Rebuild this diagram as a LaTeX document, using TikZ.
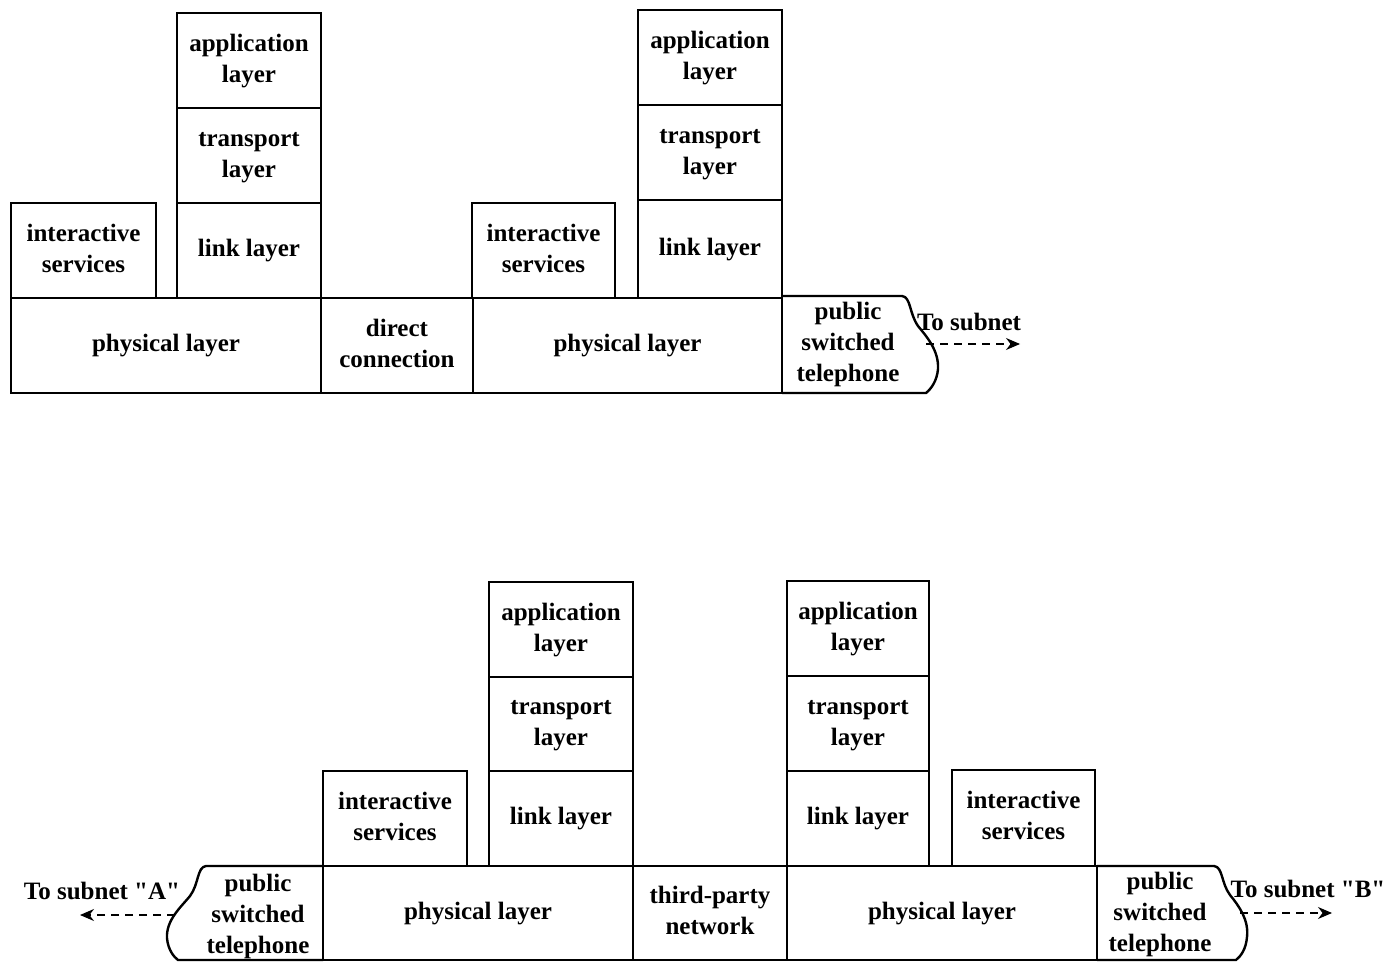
\documentclass[tikz,border=0pt]{standalone}
\usepackage{fontspec}
\setmainfont{Liberation Serif}
\usetikzlibrary{arrows.meta}
% a ruled box given by its corners (in px units of the picture)
\newcommand\lbox[6]{%
  \pgfmathsetmacro\lbw{(#4-#2)*0.5}%
  \pgfmathsetmacro\lbh{(#5-#3)*0.5}%
  \node[layerbox, minimum width=\lbw pt, minimum height=\lbh pt]
    (#1) at ({(#2+#4)/2},{(#3+#5)/2}) {\raisebox{-1.2pt}{\begin{tabular}{@{}c@{}}#6\end{tabular}}};}
\begin{document}
\begin{tikzpicture}[x=0.5pt,y=-0.5pt,
  line width=1.2pt,
  every node/.style={font=\bfseries\fontsize{12.5}{15.5}\selectfont, align=center},
  layerbox/.style={draw, inner sep=0pt, line width=1.2pt},
  label text/.style={inner sep=0pt, yshift=-1pt},
  outline/.style={line width=1.2pt, line join=round},
  link/.style={dashed, dash pattern=on 4pt off 3pt, line width=0.6pt,
    -{Stealth[length=7pt,width=6pt]}}]
\useasboundingbox (0,0) rectangle (1387,962);

% ---------------- upper network: two stacks joined by a direct connection
\lbox{is1}{11}{203}{156}{298}{interactive\\services}
\lbox{app1}{177}{13}{321}{108}{application\\layer}
\lbox{tr1}{177}{108}{321}{203}{transport\\layer}
\lbox{ln1}{177}{203}{321}{298}{link layer}
\lbox{ph1}{11}{298}{321}{393}{physical layer}
\lbox{dc}{321}{298}{473}{393}{direct\\connection}
\lbox{is2}{472}{203}{615}{298}{interactive\\services}
\lbox{app2}{638}{10}{782}{105}{application\\layer}
\lbox{tr2}{638}{105}{782}{200}{transport\\layer}
\lbox{ln2}{638}{200}{782}{298}{link layer}
\lbox{ph2}{473}{298}{782}{393}{physical layer}

% public switched telephone with its open curved edge
\draw[outline] (782,296) -- (902,296)
  .. controls (911,297) and (909,313) .. (918,326)
  .. controls (926,336) and (939,350) .. (938,369)
  .. controls (937,381) and (931,389) .. (926,393) -- (782,393);
\coordinate (pstTout) at (926,344);
\node[label text] (pstT) at (848,342) {public\\switched\\telephone};
\node[label text] (subT) at (969,320) {To subnet};
\coordinate (subTend) at (1020,344);
\draw[link] (pstTout) -- (subTend);

% ---------------- lower network: two stacks joined by a third-party network
\lbox{is3}{323}{771}{467}{866}{interactive\\services}
\lbox{app3}{489}{582}{633}{677}{application\\layer}
\lbox{tr3}{489}{677}{633}{771}{transport\\layer}
\lbox{ln3}{489}{771}{633}{866}{link layer}
\lbox{ph3}{323}{866}{633}{960}{physical layer}
\lbox{tp}{633}{866}{787}{960}{third-party\\network}
\lbox{app4}{787}{581}{929}{676}{application\\layer}
\lbox{tr4}{787}{676}{929}{771}{transport\\layer}
\lbox{ln4}{787}{771}{929}{866}{link layer}
\lbox{is4}{952}{770}{1095}{866}{interactive\\services}
\lbox{ph4}{787}{866}{1097}{960}{physical layer}

% telephone link toward subnet A (curved edge on the left)
\draw[outline] (323,866) -- (206,866)
  .. controls (197,867) and (199,884) .. (190,896)
  .. controls (181,907) and (166,920) .. (167,938)
  .. controls (168,950) and (174,957) .. (178,960) -- (323,960);
\coordinate (pstAout) at (175,915);
\node[label text] (pstA) at (258,914) {public\\switched\\telephone};
\node[label text] (subA) at (102,889) {To subnet \textquotedbl A\textquotedbl};
\coordinate (subAend) at (80,915);
\draw[link] (pstAout) -- (subAend);

% telephone link toward subnet B (curved edge on the right)
\draw[outline] (1097,866) -- (1214,866)
  .. controls (1223,867) and (1221,883) .. (1230,895)
  .. controls (1239,906) and (1249,920) .. (1247,937)
  .. controls (1246,949) and (1241,956) .. (1236,960) -- (1097,960);
\coordinate (pstBout) at (1240,913);
\node[label text] (pstB) at (1160,912) {public\\switched\\telephone};
\node[label text] (subB) at (1308,887) {To subnet \textquotedbl B\textquotedbl};
\coordinate (subBend) at (1332,913);
\draw[link] (pstBout) -- (subBend);
\end{tikzpicture}
\end{document}
